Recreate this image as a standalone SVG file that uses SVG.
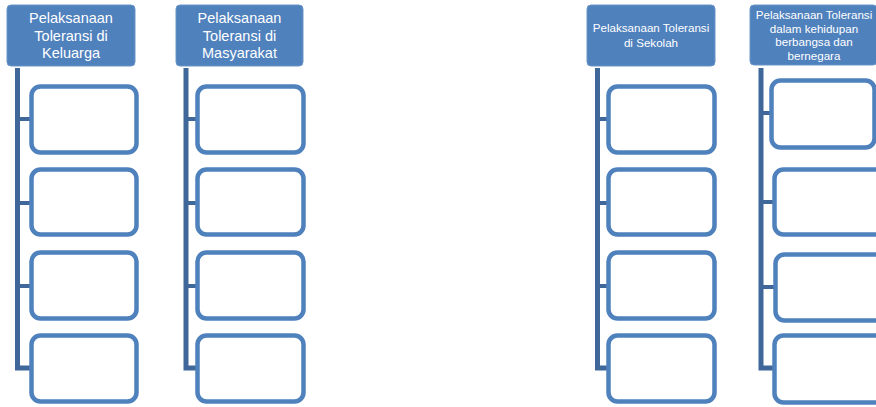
<svg xmlns="http://www.w3.org/2000/svg" width="876" height="407" viewBox="0 0 876 407">
<style>
.hdr{fill:#4F81BD;stroke:#6A95C8;stroke-width:1}
.ht{font-family:"Liberation Sans",Arial,sans-serif;fill:#FFFFFF;text-anchor:middle}
.big{font-size:14.5px}
.small{font-size:11.6px}
.box{fill:#FFFFFF;stroke:#4F81BD;stroke-width:4.5}
.bar{fill:none;stroke:#40679A;stroke-width:5;stroke-linejoin:miter}
.tick{fill:none;stroke:#40679A;stroke-width:4}
</style>
<rect width="876" height="407" fill="#FFFFFF"/>
<g id="connectors">
<path class="bar" d="M17.5,68 V368 H31"/>
<path class="tick" d="M17.5,119 H31 M17.5,203 H31 M17.5,286 H31"/>
<path class="bar" d="M186,68 V368 H197"/>
<path class="tick" d="M186,119 H197 M186,203 H197 M186,286 H197"/>
<path class="bar" d="M597.5,68 V368 H608"/>
<path class="tick" d="M597.5,119 H608 M597.5,203 H608 M597.5,286 H608"/>
<path class="bar" d="M761,68 V368 H774"/>
<path class="tick" d="M761,113 H771 M761,202 H774 M761,287 H775"/>
</g>
<g id="header-keluarga">
<rect class="hdr" x="7" y="5" width="128" height="61" rx="4"/>
<text class="ht big" x="71" y="23">Pelaksanaan</text>
<text class="ht big" x="71" y="41">Toleransi di</text>
<text class="ht big" x="71" y="58">Keluarga</text>
</g>
<g id="header-masyarakat">
<rect class="hdr" x="176" y="5" width="127" height="61" rx="4"/>
<text class="ht big" x="239.5" y="23">Pelaksanaan</text>
<text class="ht big" x="239.5" y="41">Toleransi di</text>
<text class="ht big" x="239.5" y="58">Masyarakat</text>
</g>
<g id="header-sekolah">
<rect class="hdr" x="587" y="5" width="128" height="61" rx="4"/>
<text class="ht small" x="651" y="32">Pelaksanaan Toleransi</text>
<text class="ht small" x="651" y="47">di Sekolah</text>
</g>
<g id="header-berbangsa">
<rect class="hdr" x="750" y="5" width="127" height="60" rx="4"/>
<text class="ht small" x="814" y="19">Pelaksanaan Toleransi</text>
<text class="ht small" x="814" y="32.5">dalam kehidupan</text>
<text class="ht small" x="814" y="46">berbangsa dan</text>
<text class="ht small" x="814" y="59.5">bernegara</text>
</g>
<g id="keluarga-1"><rect class="box" x="31.5" y="86.5" width="105" height="66" rx="9"/></g>
<g id="keluarga-2"><rect class="box" x="31.5" y="169.5" width="105" height="65" rx="9"/></g>
<g id="keluarga-3"><rect class="box" x="31.5" y="252.5" width="105" height="66" rx="9"/></g>
<g id="keluarga-4"><rect class="box" x="31.5" y="335.5" width="105" height="66" rx="9"/></g>
<g id="masyarakat-1"><rect class="box" x="197.5" y="86.5" width="106" height="66" rx="9"/></g>
<g id="masyarakat-2"><rect class="box" x="197.5" y="169.5" width="106" height="65" rx="9"/></g>
<g id="masyarakat-3"><rect class="box" x="197.5" y="252.5" width="106" height="66" rx="9"/></g>
<g id="masyarakat-4"><rect class="box" x="197.5" y="335.5" width="106" height="66" rx="9"/></g>
<g id="sekolah-1"><rect class="box" x="608.5" y="86.5" width="106" height="66" rx="9"/></g>
<g id="sekolah-2"><rect class="box" x="608.5" y="169.5" width="106" height="65" rx="9"/></g>
<g id="sekolah-3"><rect class="box" x="608.5" y="252.5" width="106" height="66" rx="9"/></g>
<g id="sekolah-4"><rect class="box" x="608.5" y="335.5" width="106" height="66" rx="9"/></g>
<g id="berbangsa-1"><rect class="box" x="771.5" y="80.5" width="103" height="67" rx="9"/></g>
<g id="berbangsa-2"><rect class="box" x="774.5" y="169.5" width="120" height="65" rx="9"/></g>
<g id="berbangsa-3"><rect class="box" x="775.5" y="254.5" width="120" height="66" rx="9"/></g>
<g id="berbangsa-4"><rect class="box" x="774.5" y="335.5" width="120" height="67" rx="9"/></g>
</svg>
